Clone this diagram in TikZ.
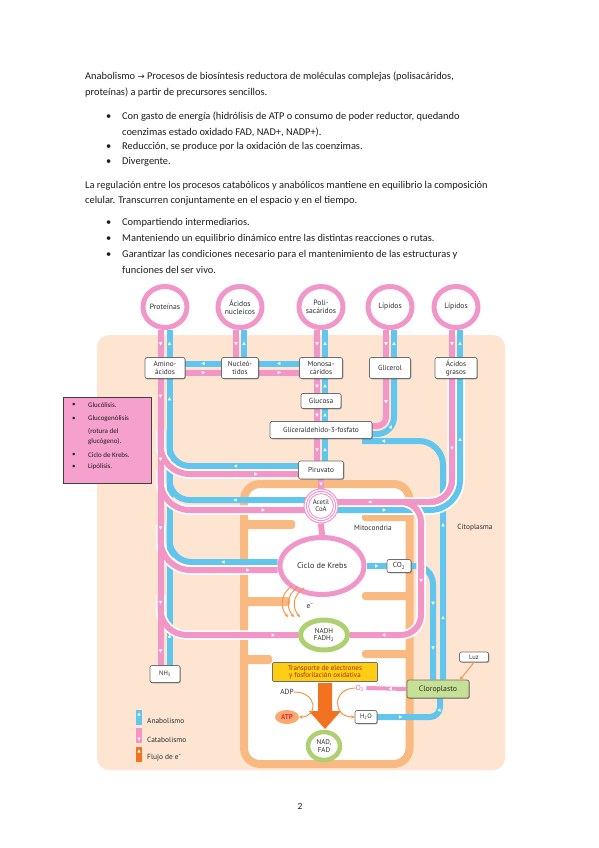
\documentclass[tikz,border=0pt]{standalone}
\usepackage{fontspec}
\setmainfont{Carlito}
\newfontfamily\dfont{PT Sans}
\newfontfamily\symf{DejaVu Sans}
\usetikzlibrary{decorations.markings,shadows,shapes.geometric,arrows.meta}
\pgfdeclarelayer{back}
\pgfdeclarelayer{pipes}
\pgfsetlayers{back,pipes,main}
\definecolor{pinkc}{RGB}{242,150,199}
\definecolor{bluec}{RGB}{96,198,238}
\definecolor{ringpink}{RGB}{240,150,200}
\definecolor{greenring}{RGB}{175,208,112}
\definecolor{peach}{RGB}{253,229,210}
\definecolor{orwall}{RGB}{249,186,130}
\definecolor{orarrow}{RGB}{243,114,32}
\definecolor{eorange}{RGB}{244,150,70}
\definecolor{ybox}{RGB}{255,206,20}
\definecolor{ytext}{RGB}{150,45,20}
\definecolor{boxgray}{RGB}{110,110,110}
\definecolor{dtext}{RGB}{45,45,45}
\definecolor{legpink}{RGB}{245,160,205}
\definecolor{clorof}{RGB}{198,224,150}
\definecolor{atpf}{RGB}{250,170,110}
\definecolor{atpt}{RGB}{225,40,60}
\definecolor{otext}{RGB}{225,100,170}
\definecolor{bodyt}{RGB}{30,30,30}
\begin{document}
\begin{tikzpicture}[x=1pt,y=-1pt,
 pipeP/.style={draw=pinkc,line width=6pt},
 pipeB/.style={draw=bluec,line width=6pt},
 casing/.style={preaction={draw=white,line width=9.5pt}},
 tri/.style={postaction={decorate,decoration={markings,mark=at position #1 with {\fill[white,sharp corners] (1.8,0) -- (-1.4,1.7) -- (-1.4,-1.7) -- cycle;}}}},
 ring/.style={ellipse,draw=ringpink,line width=5pt,fill=white,inner sep=0pt,align=center,text=dtext,font=\dfont\fontsize{7.6}{7.8}\selectfont},
 gring/.style={ellipse,draw=greenring,line width=5pt,fill=white,inner sep=0pt,align=center,text=dtext,font=\dfont\fontsize{7}{7.4}\selectfont},
 box/.style={rectangle,rounded corners=2pt,draw=boxgray,line width=0.7pt,fill=white,inner sep=0.5pt,align=center,text=dtext,font=\dfont\fontsize{7.3}{7.5}\selectfont,drop shadow={shadow xshift=0.8pt,shadow yshift=-0.8pt,opacity=0.35,fill=black}},
 lbl/.style={inner sep=0pt,text=dtext,font=\dfont\fontsize{7.4}{8}\selectfont},
 body/.style={anchor=west,inner sep=0pt,text=bodyt,font=\fontsize{10.4}{12}\selectfont},
 item/.style={anchor=west,inner sep=0pt,text=bodyt,font=\fontsize{7}{8}\selectfont},
 eflow/.style={draw=eorange,line width=1pt,-{Stealth[length=3.5pt,width=3.5pt]}},
]
\useasboundingbox (0,0) rectangle (599,848);
\begin{pgfonlayer}{back}
\fill[white] (0,0) rectangle (599,848);
\fill[peach,rounded corners=12pt] (97,335) rectangle (505,770);
\draw[orwall,line width=8pt,fill=white,rounded corners=16pt] (244,484) rectangle (409.5,764);
\fill[orwall,rounded corners=3pt] (242,520) rectangle (295,529);
\fill[orwall,rounded corners=3pt] (242,597) rectangle (290,606);
\fill[orwall,rounded corners=3pt] (242,655) rectangle (272,664);
\fill[orwall,rounded corners=3pt] (362,513) rectangle (411,521);
\fill[orwall,rounded corners=3pt] (362,592) rectangle (411,600);
\fill[orwall,rounded corners=3pt] (362,650) rectangle (411,658);
\end{pgfonlayer}

% ---------- text ----------
\node[body] (t1) at (85,77) {Anabolismo {\symf\fontsize{8.5}{10}\selectfont →} Procesos de biosíntesis reductora de moléculas complejas (polisacáridos,};
\node[body] (t2) at (85,93) {proteínas) a partir de precursores sencillos.};
\node[body] (bu1) at (106,117) {•};
\node[body] (b1) at (122,117) {Con gasto de energía (hidrólisis de ATP o consumo de poder reductor, quedando};
\node[body] (b1b) at (122,132) {coenzimas estado oxidado FAD, NAD+, NADP+).};
\node[body] (bu2) at (106,147) {•};
\node[body] (b2) at (122,147) {Reducción, se produce por la oxidación de las coenzimas.};
\node[body] (bu3) at (106,162) {•};
\node[body] (b3) at (122,162) {Divergente.};
\node[body] (p1) at (85,186) {La regulación entre los procesos catabólicos y anabólicos mantiene en equilibrio la composición};
\node[body] (p2) at (85,201) {celular. Transcurren conjuntamente en el espacio y en el tiempo.};
\node[body] (bu4) at (106,223) {•};
\node[body] (c1) at (122,223) {Compartiendo intermediarios.};
\node[body] (bu5) at (106,239) {•};
\node[body] (c2) at (122,239) {Manteniendo un equilibrio dinámico entre las distintas reacciones o rutas.};
\node[body] (bu6) at (106,255) {•};
\node[body] (c3) at (122,255) {Garantizar las condiciones necesario para el mantenimiento de las estructuras y};
\node[body] (c3b) at (122,270) {funciones del ser vivo.};

% ---------- nodes ----------
\node[ring,minimum width=44pt,minimum height=41pt] (prot) at (165,307) {Proteínas};
\node[ring,minimum width=44pt,minimum height=41pt] (acnuc) at (240,307) {Ácidos\\nucleicos};
\node[ring,minimum width=44pt,minimum height=41pt] (polis) at (321,307) {Poli-\\sacáridos};
\node[ring,minimum width=44pt,minimum height=41pt] (lip1) at (390,307) {Lípidos};
\node[ring,minimum width=44pt,minimum height=41pt] (lip2) at (456,307) {Lípidos};

\node[box,minimum width=40pt,minimum height=21pt] (amino) at (165,368) {Amino-\\ácidos};
\node[box,minimum width=37pt,minimum height=21pt] (nucleo) at (240,368) {Nucleó-\\tidos};
\node[box,minimum width=43pt,minimum height=21pt] (monosa) at (321,368) {Monosa-\\cáridos};
\node[box,minimum width=41pt,minimum height=21pt] (glic) at (390,368) {Glicerol};
\node[box,minimum width=42pt,minimum height=21pt] (acgras) at (456,368) {Ácidos\\grasos};
\node[box,minimum width=40pt,minimum height=15pt] (glucosa) at (321,401) {Glucosa};
\node[box,minimum width=102pt,minimum height=17pt] (g3p) at (321,430) {Gliceraldehído-3-fosfato};
\node[box,minimum width=45pt,minimum height=18pt] (piru) at (321,470) {Piruvato};
\node[circle,draw=ringpink,line width=1pt,fill=white,minimum size=34pt,inner sep=0pt,align=center,text=dtext,font=\dfont\fontsize{6.8}{7}\selectfont] (acetil) at (321,506) {Acetil\\CoA};
\draw[ringpink,line width=0.9pt] (acetil) circle (14.6pt) (acetil) circle (12.4pt);
\node[ring,minimum width=84pt,minimum height=57pt,font=\dfont\fontsize{8.2}{9}\selectfont] (krebs) at (322,566) {Ciclo de Krebs};
\node[box,minimum width=24pt,minimum height=13pt] (co2) at (399,566) {CO\textsubscript{2}};
\node[gring,minimum width=47pt,minimum height=30pt] (nadh) at (324,635) {NADH\\FADH\textsubscript{2}};
\node[box,minimum width=30pt,minimum height=17pt,font=\dfont\fontsize{6.5}{7}\selectfont] (nh3) at (165,674) {NH\textsubscript{3}};
\node[rectangle,rounded corners=1pt,draw=boxgray,line width=0.7pt,fill=ybox,minimum width=105pt,minimum height=19pt,inner sep=0.5pt,align=center,text=ytext,font=\dfont\fontsize{7}{7.2}\selectfont] (transp) at (325,672) {Transporte de electrones\\y fosforilación oxidativa};
\node[lbl] (adp) at (287,692) {ADP};
\node[ellipse,fill=atpf,minimum width=24pt,minimum height=14pt,inner sep=0pt,text=atpt,font=\dfont\bfseries\fontsize{7}{8}\selectfont] (atp) at (287,717) {ATP};
\node[lbl,text=otext] (o2) at (360,688) {O\textsubscript{2}};
\node[box,minimum width=22pt,minimum height=13pt,font=\dfont\fontsize{6.5}{7}\selectfont] (h2o) at (366,717) {H\textsubscript{2}O};
\node[gring,line width=4.5pt,minimum width=32pt,minimum height=28pt] (nadfad) at (324,746) {NAD,\\FAD};
\node[box,fill=clorof,minimum width=62pt,minimum height=18pt,font=\dfont\fontsize{7.8}{8}\selectfont] (cloro) at (438,689) {Cloroplasto};
\node[box,minimum width=29pt,minimum height=10pt,font=\dfont\fontsize{6.5}{7}\selectfont] (luz) at (474,657) {Luz};
\node[lbl] (mito) at (373,528) {Mitocondria};
\node[lbl] (cito) at (475,528) {Citoplasma};
\node[lbl] (elab) at (310,606) {e\textsuperscript{−}};

% big orange arrow
\fill[orarrow] (318,683) -- (332,683) -- (332,711) -- (341,711) -- (325,729) -- (309,711) -- (318,711) -- cycle;

% e- arcs
\draw[eflow] (292,586) .. controls (280,594) and (280,608) .. (288,617);
\draw[eflow] (298,587) .. controls (286,595) and (286,608) .. (294,617);
\draw[eflow] (304,588) .. controls (292,596) and (292,608) .. (300,617);
\draw[eflow] (adp.east) .. controls (318,692) and (318,717) .. (atp.east);
\draw[eflow] (o2.west) .. controls (332,688) and (332,717) .. (h2o.west);
\draw[eflow] (luz.south) -- ([xshift=22pt]cloro.north);

% ---------- pipes ----------
\begin{pgfonlayer}{pipes}
% column 1
\draw[pipeP,tri=.5] ([xshift=-4.5pt]prot.south) -- ([xshift=-4.5pt]amino.north);
\draw[pipeB,tri=.5] ([xshift=4.5pt]amino.north) -- ([xshift=4.5pt]prot.south);
\draw[pipeB,tri=.1,tri=.45,tri=.72,tri=.93] ([xshift=4.5pt]nh3.north) -- ([xshift=4.5pt]amino.south);
\draw[pipeB,rounded corners=20pt,tri=.4] ([yshift=4pt]piru.west) -- (169.5,466) -- (169.5,430);
\draw[pipeB,rounded corners=20pt,tri=.45] ([xshift=3pt,yshift=6pt]acetil.west) -- (169.5,500) -- (169.5,470);
\draw[pipeB,rounded corners=22pt,tri=.4] ([yshift=4pt]krebs.west) -- (169.5,562) -- (169.5,525);
\draw[pipeP,casing,rounded corners=29pt,tri=.75] (160.5,430) -- (160.5,474) -- ([yshift=-4pt]piru.west);
\draw[pipeP,casing,rounded corners=29pt,tri=.75] (160.5,470) -- (160.5,510) -- ([xshift=3pt,yshift=-4pt]acetil.west);
\draw[pipeP,casing,rounded corners=30pt,tri=.8] (160.5,525) -- (160.5,570) -- ([yshift=-4pt]krebs.west);
\draw[pipeP,casing,rounded corners=26pt,tri=.85] (160.5,595) -- (160.5,635) -- (nadh.west);
\draw[pipeP,tri=.06,tri=.28,tri=.52,tri=.78,tri=.95] ([xshift=-4.5pt]amino.south) -- ([xshift=-4.5pt]nh3.north);
% column 2 and horizontals
\draw[pipeP,tri=.5] ([xshift=-4pt]acnuc.south) -- ([xshift=-4pt]nucleo.north);
\draw[pipeB,tri=.5] ([xshift=4pt]nucleo.north) -- ([xshift=4pt]acnuc.south);
\draw[pipeB,tri=.5] ([yshift=4.5pt]nucleo.west) -- ([yshift=4.5pt]amino.east);
\draw[pipeP,tri=.5] ([yshift=-4.5pt]amino.east) -- ([yshift=-4.5pt]nucleo.west);
\draw[pipeB,tri=.5] ([yshift=4.5pt]monosa.west) -- ([yshift=4.5pt]nucleo.east);
\draw[pipeP,tri=.5] ([yshift=-4.5pt]nucleo.east) -- ([yshift=-4.5pt]monosa.west);
% column 3
\foreach \a/\b in {polis/monosa,monosa/glucosa,glucosa/g3p,g3p/piru,lip1/glic,lip2/acgras}{
 \draw[pipeP,tri=.5] ([xshift=-4pt]\a.south) -- ([xshift=-4pt]\b.north);
 \draw[pipeB,tri=.5] ([xshift=4pt]\b.north) -- ([xshift=4pt]\a.south);
}
\draw[pipeP,tri=.5] (piru.south) -- (acetil.north);
\draw[pipeP] (acetil.south) -- (krebs.north);
% column 4
\draw[pipeP,rounded corners=9pt,tri=.4] ([xshift=-4pt]glic.south) -- (386,426) -- ([yshift=4pt]g3p.east);
\draw[pipeB,rounded corners=17pt,tri=.3] ([yshift=-4pt]g3p.east) -- (394,434) -- ([xshift=4pt]glic.south);
% right side
\draw[pipeB,rounded corners=24pt,tri=.2,tri=.5,tri=.93] ([xshift=5pt]cloro.north) -- (443,441) -- (362,441);
\draw[pipeB,tri=.5] (krebs.east) -- (co2.west);
\draw[pipeB,rounded corners=18pt,tri=.4,tri=.75] (co2.east) -- (433,566) -- ([xshift=-5pt]cloro.north);
\draw[pipeB,casing,rounded corners=30pt,tri=.2,tri=.75] ([xshift=-3pt,yshift=-4pt]acetil.east) -- (460,510) -- ([xshift=4pt]acgras.south);
\draw[pipeP,casing,rounded corners=22pt] ([xshift=-4pt]acgras.south) -- (452,502) -- ([xshift=-3pt,yshift=4pt]acetil.east);
\draw[pipeP,casing,rounded corners=20pt,tri=.45,tri=.84] (395,502) -- (421,502) -- (421,635) -- (nadh.east);
\draw[pipeP,rounded corners=22pt,tri=.3,tri=.85] ([xshift=-4pt]acgras.south) -- (452,502) -- ([xshift=-3pt,yshift=4pt]acetil.east);
\draw[draw=pinkc,line width=4pt,tri=.4] (cloro.west) -- ([xshift=2pt]o2.east);
\draw[pipeB,rounded corners=10pt,tri=.3,tri=.85] (h2o.east) -- (440,717) -- ([xshift=2pt]cloro.south);
\end{pgfonlayer}

% ---------- legend ----------
\fill[bluec] (136,710) rectangle (142,725);
\fill[white] (139,712.5) -- (140.6,715.5) -- (137.4,715.5) -- cycle;
\fill[pinkc] (136,728) rectangle (142,743);
\fill[white] (139,740.5) -- (140.6,737.5) -- (137.4,737.5) -- cycle;
\fill[orarrow] (136,747) rectangle (142,762);
\fill[white] (139,749.5) -- (140.6,752.5) -- (137.4,752.5) -- cycle;
\node[lbl,anchor=west] (lana) at (147,721) {Anabolismo};
\node[lbl,anchor=west] (lcat) at (147,740) {Catabolismo};
\node[lbl,anchor=west] (lflu) at (147,758) {Flujo de e\textsuperscript{−}};

% ---------- left pink box ----------
\node[draw=black!75,fill=legpink,line width=0.8pt,minimum width=88pt,minimum height=86pt,inner sep=0pt] (lbox) at (107,440) {};
\node[item] (i1b) at (72,405) {•};
\node[item] (i1) at (88,405) {Glucólisis.};
\node[item] (i2b) at (72,419) {•};
\node[item] (i2) at (88,419) {Glucogenólisis};
\node[item] (i2c) at (88,431) {(rotura del};
\node[item] (i2d) at (88,442) {glucógeno).};
\node[item] (i3b) at (72,455) {•};
\node[item] (i3) at (88,455) {Ciclo de Krebs.};
\node[item] (i4b) at (72,467) {•};
\node[item] (i4) at (88,467) {Lipólisis.};

\node[inner sep=0pt,font=\fontsize{9.5}{11}\selectfont,text=bodyt] (pg) at (300,806) {2};
\end{tikzpicture}
\end{document}
